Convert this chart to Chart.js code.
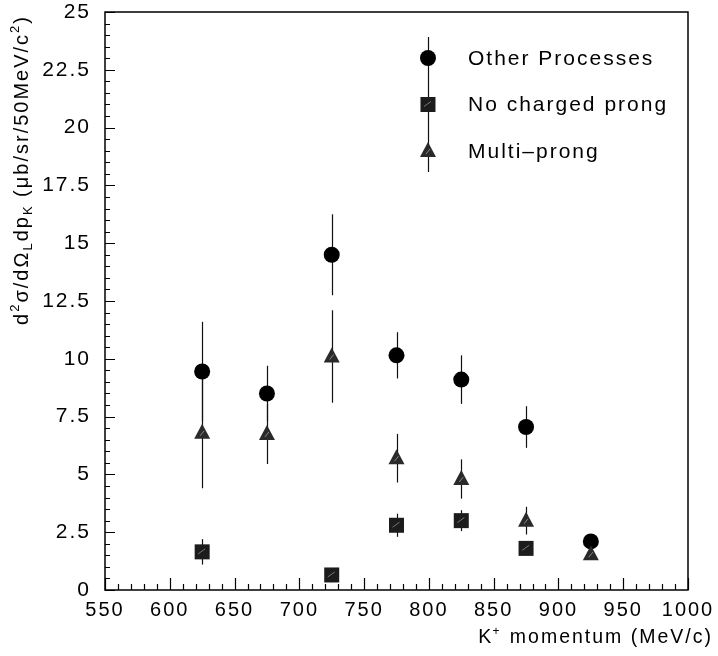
<!DOCTYPE html>
<html>
<head>
<meta charset="utf-8">
<script src="https://cdn.jsdelivr.net/npm/chart.js@4/dist/chart.umd.min.js"></script>
<style>
  html, body { margin: 0; padding: 0; background: #fff; }
  #wrap { width: 718px; height: 656px; }
</style>
</head>
<body>
<div id="wrap"><canvas id="c" width="718" height="656"></canvas></div>
<script>
// ---- data ----
const otherX     = [625, 675, 725, 775, 825, 875, 925];
const otherVal   = [9.45, 8.5, 14.5, 10.15, 9.1, 7.05, 2.1];
const otherErr   = [2.15, 1.2, 1.75, 1.0, 1.05, 0.9, 0.3];

const noChX      = [625, 725, 775, 825, 875];
const noChVal    = [1.65, 0.65, 2.8, 3.0, 1.8];
const noChErr    = [0.55, 0.3, 0.5, 0.45, 0.3];

const multiX     = [625, 675, 725, 775, 825, 875, 925];
const multiVal   = [6.8, 6.75, 10.1, 5.7, 4.8, 3.0, 1.55];
const multiErr   = [2.4, 1.3, 2.0, 1.05, 0.85, 0.6, 0.2];

const seriesNames = ['Other Processes', 'No charged prong', 'Multi\u2013prong'];
const xTickLabels = ['550','600','650','700','750','800','850','900','950','1000'];
const yTickLabels = ['0','2.5','5','7.5','10','12.5','15','17.5','20','22.5','25'];

const FONT = '"Liberation Sans", Arial, Helvetica, sans-serif';

function pts(xs, ys, es) { return xs.map((x, i) => ({ x: x, y: ys[i], e: es[i] })); }

// ---- custom marker drawing ----
function drawMarker(ctx, type, x, y) {
  ctx.save();
  if (type === 'circle') {
    ctx.fillStyle = '#000';
    ctx.beginPath(); ctx.arc(x, y, 8, 0, Math.PI * 2); ctx.fill();
  } else if (type === 'square') {
    ctx.fillStyle = '#1c1c1c';
    ctx.fillRect(x - 7.5, y - 7.5, 15, 15);
    ctx.strokeStyle = '#777'; ctx.lineWidth = 1;
    ctx.beginPath(); ctx.moveTo(x - 4, y + 2); ctx.lineTo(x + 3, y - 3); ctx.stroke();
  } else {
    ctx.fillStyle = '#2a2a2a';
    ctx.beginPath();
    ctx.moveTo(x, y - 9); ctx.lineTo(x + 8, y + 6); ctx.lineTo(x - 8, y + 6); ctx.closePath();
    ctx.fill();
    ctx.strokeStyle = '#888'; ctx.lineWidth = 1;
    ctx.beginPath(); ctx.moveTo(x - 2, y + 3); ctx.lineTo(x + 2, y - 2); ctx.stroke();
  }
  ctx.restore();
}
const markerTypes = ['circle', 'square', 'triangle'];

// ---- plugin: frame, inner ticks, error bars, markers, legend, titles ----
const physPlugin = {
  id: 'phys',
  beforeDatasetsDraw(chart) {
    const ctx = chart.ctx;
    const ys = chart.scales.y;
    ctx.save();
    ctx.strokeStyle = '#111';
    ctx.lineWidth = 1.2;
    chart.data.datasets.forEach((ds, di) => {
      const meta = chart.getDatasetMeta(di);
      ds.data.forEach((p, i) => {
        const el = meta.data[i];
        const x = Math.round(el.x) + 0.5;
        ctx.beginPath();
        ctx.moveTo(x, ys.getPixelForValue(p.y + p.e));
        ctx.lineTo(x, ys.getPixelForValue(p.y - p.e));
        ctx.stroke();
      });
    });
    ctx.restore();
  },
  afterDatasetsDraw(chart) {
    const ctx = chart.ctx;
    chart.data.datasets.forEach((ds, di) => {
      const meta = chart.getDatasetMeta(di);
      meta.data.forEach(el => drawMarker(ctx, markerTypes[di], el.x, el.y));
    });
  },
  afterDraw(chart) {
    const ctx = chart.ctx;
    const a = chart.chartArea;
    const xs = chart.scales.x, ys = chart.scales.y;
    ctx.save();
    // frame
    ctx.strokeStyle = '#000';
    ctx.lineWidth = 1.5;
    ctx.strokeRect(a.left, a.top, a.right - a.left, a.bottom - a.top);
    // inner ticks
    ctx.lineWidth = 1.2;
    ctx.beginPath();
    for (let v = xs.min; v <= xs.max + 1e-6; v += 10) {
      const px = Math.round(xs.getPixelForValue(v)) + 0.5;
      const major = Math.abs(v % 50) < 1e-6;
      ctx.moveTo(px, a.bottom);
      ctx.lineTo(px, a.bottom - (major ? 12 : 6));
    }
    for (let v = ys.min; v <= ys.max + 1e-6; v += 0.5) {
      const py = Math.round(ys.getPixelForValue(v)) + 0.5;
      const major = Math.abs((v / 2.5) - Math.round(v / 2.5)) < 1e-6;
      ctx.moveTo(a.left, py);
      ctx.lineTo(a.left + (major ? 10 : 5), py);
    }
    ctx.stroke();

    // legend (inside the plot, upper middle)
    const lx = a.left + (a.right - a.left) * 0.554;
    const ly0 = a.top + 46;
    const gap = 46.5;
    ctx.strokeStyle = '#111';
    ctx.lineWidth = 1.2;
    ctx.beginPath();
    ctx.moveTo(Math.round(lx) + 0.5, a.top + 25);
    ctx.lineTo(Math.round(lx) + 0.5, a.top + 160);
    ctx.stroke();
    ctx.fillStyle = '#000';
    ctx.font = '21px ' + FONT;
    ctx.letterSpacing = '2px';
    ctx.textBaseline = 'middle';
    ctx.textAlign = 'left';
    seriesNames.forEach((n, i) => {
      const yy = ly0 + i * gap;
      drawMarker(ctx, markerTypes[i], lx, yy);
      ctx.fillText(n, lx + 40, yy + 1);
    });

    // x title
    ctx.textAlign = 'left';
    ctx.textBaseline = 'alphabetic';
    const xt1 = 'K', xt2 = '+', xt3 = ' momentum (MeV/c)';
    ctx.font = '19.5px ' + FONT;
    const w1 = ctx.measureText(xt1).width;
    ctx.font = '12px ' + FONT;
    const w2 = ctx.measureText(xt2).width;
    ctx.font = '19.5px ' + FONT;
    const w3 = ctx.measureText(xt3).width;
    let tx = 713 - (w1 + w2 + w3);
    const tyb = 643;
    ctx.fillText(xt1, tx, tyb); tx += w1;
    ctx.font = '12px ' + FONT; ctx.fillText(xt2, tx - 1, tyb - 8); tx += w2;
    ctx.font = '19.5px ' + FONT; ctx.fillText(xt3, tx, tyb);

    // y title (rotated, rich text)
    const segs = [
      { t: 'd', s: 0 }, { t: '2', s: 1 }, { t: '\u03C3/d\u03A9', s: 0 }, { t: 'L', s: -1 },
      { t: 'dp', s: 0 }, { t: 'K', s: -1 },
      { t: ' (\u03BCb/sr/50MeV/c', s: 0 }, { t: '2', s: 1 }, { t: ')', s: 0 }
    ];
    const fontFor = s => (s === 0 ? '20px ' : '13px ') + FONT;
    let total = 0;
    segs.forEach(g => { ctx.font = fontFor(g.s); g.w = ctx.measureText(g.t).width; total += g.w; });
    ctx.translate(28, 15 + total);
    ctx.rotate(-Math.PI / 2);
    let cx = 0;
    segs.forEach(g => {
      ctx.font = fontFor(g.s);
      const dy = g.s === 1 ? -9 : (g.s === -1 ? 4 : 0);
      ctx.fillText(g.t, cx, dy);
      cx += g.w;
    });
    ctx.restore();
  }
};

// letter spacing for tick labels
const spacingPlugin = {
  id: 'spacing',
  beforeDraw(chart) { chart.ctx.letterSpacing = '2px'; }
};

new Chart(document.getElementById('c'), {
  type: 'scatter',
  data: {
    datasets: [
      { label: seriesNames[0], data: pts(otherX, otherVal, otherErr), pointRadius: 0, pointHoverRadius: 0 },
      { label: seriesNames[1], data: pts(noChX, noChVal, noChErr), pointRadius: 0, pointHoverRadius: 0 },
      { label: seriesNames[2], data: pts(multiX, multiVal, multiErr), pointRadius: 0, pointHoverRadius: 0 }
    ]
  },
  options: {
    responsive: false,
    animation: false,
    events: [],
    layout: { padding: { top: 12, right: 30, left: 0, bottom: 0 } },
    plugins: { legend: { display: false }, tooltip: { enabled: false }, title: { display: false } },
    scales: {
      x: {
        type: 'linear', min: 550, max: 1000,
        grid: { display: false, drawTicks: false },
        border: { display: false },
        afterBuildTicks(s) { s.ticks = xTickLabels.map(t => ({ value: Number(t) })); },
        afterFit(s) { s.height = 66; s.paddingLeft = 0; s.paddingRight = 0; },
        ticks: {
          padding: 8, color: '#000', maxRotation: 0, autoSkip: false,
          font: { family: FONT, size: 20 },
          callback: (v, i) => xTickLabels[i]
        }
      },
      y: {
        type: 'linear', min: 0, max: 25,
        grid: { display: false, drawTicks: false },
        border: { display: false },
        afterBuildTicks(s) { s.ticks = yTickLabels.map(t => ({ value: Number(t) })); },
        afterFit(s) { s.width = 105; s.paddingTop = 0; s.paddingBottom = 0; },
        ticks: {
          padding: 14, color: '#000', autoSkip: false,
          font: { family: FONT, size: 21 },
          callback: (v, i) => yTickLabels[i]
        }
      }
    }
  },
  plugins: [spacingPlugin, physPlugin]
});
</script>
</body>
</html>
